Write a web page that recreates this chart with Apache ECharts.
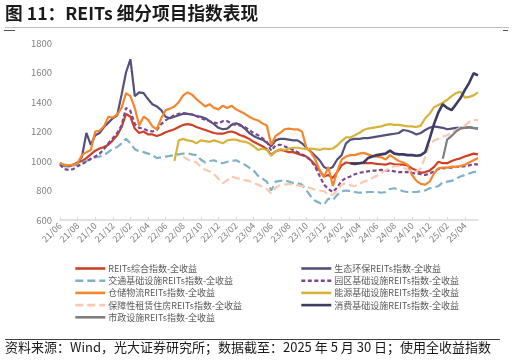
<!DOCTYPE html>
<html><head><meta charset="utf-8">
<script src="https://cdn.jsdelivr.net/npm/echarts@6/dist/echarts.min.js"></script>
<style>html,body{margin:0;padding:0;background:#fff}#c{width:515px;height:360px}</style>
</head><body><div id="c"></div>
<script>
const dates = [
'21/06/01','21/06/16','21/07/01','21/07/16','21/08/01','21/08/16','21/09/01','21/09/16','21/10/01','21/10/16','21/11/01','21/11/16','21/12/01','21/12/16',
'22/01/01','22/01/16','22/02/01','22/02/16','22/03/01','22/03/16','22/04/01','22/04/16','22/05/01','22/05/16','22/06/01','22/06/16','22/07/01','22/07/16','22/08/01','22/08/16','22/09/01','22/09/16','22/10/01','22/10/16','22/11/01','22/11/16','22/12/01','22/12/16',
'23/01/01','23/01/16','23/02/01','23/02/16','23/03/01','23/03/16','23/04/01','23/04/16','23/05/01','23/05/16','23/06/01','23/06/16','23/07/01','23/07/16','23/08/01','23/08/16','23/09/01','23/09/16','23/10/01','23/10/16','23/11/01','23/11/16','23/12/01','23/12/16',
'24/01/01','24/01/16','24/02/01','24/02/16','24/03/01','24/03/16','24/04/01','24/04/16','24/05/01','24/05/16','24/06/01','24/06/16','24/07/01','24/07/16','24/08/01','24/08/16','24/09/01','24/09/16','24/10/01','24/10/16','24/11/01','24/11/16','24/12/01','24/12/16',
'25/01/01','25/01/16','25/02/01','25/02/16','25/03/01','25/03/16','25/04/01','25/04/16','25/05/01','25/05/16'];

const yTicks = [600, 800, 1000, 1200, 1400, 1600, 1800];

const zonghe = [985,970,965,975,990,1000,1020,1045,1070,1085,
1095,1110,1140,1175,1230,1320,1300,1220,1190,1200,
1180,1180,1170,1180,1195,1205,1215,1230,1245,1250,
1245,1230,1220,1210,1200,1190,1185,1185,1195,1200,
1190,1175,1165,1150,1130,1115,1100,1080,1040,1065,
1075,1070,1060,1060,1050,1040,1030,1005,975,935,
895,905,885,925,970,990,985,985,985,985,
985,985,980,978,975,985,978,975,975,970,
950,935,920,925,935,960,995,985,985,1000,
1010,1018,1030,1040,1050,1045];

const shengtai = [985,965,965,975,985,1030,1190,1110,1175,1190,
1230,1260,1290,1310,1450,1600,1690,1440,1465,1460,
1420,1385,1370,1345,1300,1290,1300,1310,1320,1320,
1315,1305,1300,1290,1270,1250,1225,1215,1220,1245,
1255,1245,1220,1190,1170,1155,1145,1125,1100,1140,
1150,1150,1145,1140,1140,1120,1090,1065,1035,1005,
960,945,960,1010,1040,1120,1145,1150,1150,1155,
1155,1160,1165,1170,1175,1180,1185,1190,1210,1205,
1195,1180,1190,1210,1225,1235,1230,1225,1215,1220,
1225,1225,1225,1230,1222,1220];

const jiaotong = [985,970,965,970,975,990,1000,1015,1025,1030,
1040,1060,1085,1095,1120,1150,1120,1080,1065,1060,
1050,1040,1020,1025,1030,1035,1040,1045,1050,1053,
1045,1040,1010,990,1000,1005,990,985,995,1000,
1005,990,975,955,935,900,880,860,800,860,
865,870,860,850,850,840,800,760,730,715,
705,745,735,770,795,800,795,790,785,785,
790,790,790,785,790,810,815,805,795,790,
790,790,795,800,815,820,830,855,860,865,
880,895,905,915,925,930];

const yuanqu = [975,945,940,945,965,980,995,1015,1030,1050,
1080,1120,1155,1190,1240,1360,1340,1250,1225,1220,
1205,1200,1210,1250,1275,1295,1310,1320,1325,1320,
1315,1305,1290,1280,1270,1260,1255,1270,1270,1255,
1245,1240,1230,1210,1190,1175,1155,1130,1070,1105,
1110,1100,1085,1075,1060,1045,1030,1005,960,900,
840,810,790,820,865,885,895,910,920,925,
930,935,935,940,935,935,930,925,925,925,
920,915,910,905,915,930,945,950,955,955,
960,960,965,970,980,975];

const cangchu = [985,975,970,975,985,1040,1060,1075,1200,1205,
1235,1300,1295,1315,1360,1460,1440,1360,1240,1300,
1280,1235,1215,1290,1345,1355,1370,1400,1445,1465,
1450,1420,1395,1370,1385,1360,1350,1375,1360,1375,
1350,1335,1320,1300,1285,1275,1255,1240,1110,1170,
1190,1215,1220,1215,1215,1200,1090,1060,1010,940,
890,960,830,930,1010,1030,1040,1040,1050,1055,
1045,1035,1030,1025,1010,1040,1020,1000,990,975,
905,865,845,840,860,915,950,955,955,962,
960,965,975,990,1005,1020];

const nengyuan = [null,null,null,null,null,null,null,null,null,null,
null,null,null,null,null,null,null,null,null,null,
null,null,null,null,null,null,1000,1140,1150,1140,
1135,1120,1140,1135,1130,1140,1130,1120,1140,1145,
1145,1135,1130,1120,1100,1075,1085,1075,1035,1065,
1080,1075,1085,1090,1090,1085,1080,1085,1080,1075,
1085,1080,1085,1105,1135,1160,1160,1175,1190,1210,
1220,1225,1230,1235,1245,1250,1245,1245,1240,1235,
1235,1230,1240,1290,1320,1365,1380,1395,1415,1440,
1460,1470,1430,1435,1445,1465];

const baozhang = [null,null,null,null,null,null,null,null,null,null,
null,null,null,null,null,null,null,null,null,null,
null,null,null,null,null,null,null,null,1030,1010,
1000,990,960,940,930,910,880,850,870,895,
885,880,870,865,850,840,825,810,780,820,
835,840,845,840,835,830,825,815,805,800,
795,775,770,800,840,850,835,830,845,860,
870,885,900,920,935,955,965,965,955,940,
925,930,950,1030,1110,1140,1150,1165,1175,1190,
1210,1225,1240,1265,1280,1275];

const xiaofei = [null,null,null,null,null,null,null,null,null,null,
null,null,null,null,null,null,null,null,null,null,
null,null,null,null,null,null,null,null,null,null,
null,null,null,null,null,null,null,null,null,null,
null,null,null,null,null,null,null,null,null,null,
null,null,null,null,null,null,null,null,null,null,
null,null,null,null,null,null,985,980,985,990,
1020,1030,1040,1045,1050,1070,1050,1045,1045,1040,
1040,1035,1040,1060,1150,1250,1330,1385,1360,1345,
1385,1425,1480,1530,1595,1580];

const shizheng = [null,null,null,null,null,null,null,null,null,null,
null,null,null,null,null,null,null,null,null,null,
null,null,null,null,null,null,null,null,null,null,
null,null,null,null,null,null,null,null,null,null,
null,null,null,null,null,null,null,null,null,null,
null,null,null,null,null,null,null,null,null,null,
null,null,null,null,null,null,null,null,null,null,
null,null,null,null,null,null,null,null,null,null,
null,null,null,null,null,null,null,1015,1145,1170,
1200,1220,1225,1230,1225,1222];

const names = {
  zonghe: 'REITs综合指数-全收益',
  shengtai: '生态环保REITs指数-全收益',
  jiaotong: '交通基础设施REITs指数-全收益',
  yuanqu: '园区基础设施REITs指数-全收益',
  cangchu: '仓储物流REITs指数-全收益',
  nengyuan: '能源基础设施REITs指数-全收益',
  baozhang: '保障性租赁住房REITs指数-全收益',
  xiaofei: '消费基础设施REITs指数-全收益',
  shizheng: '市政设施REITs指数-全收益'
};

const FONT = '"Noto Sans CJK SC", "Noto Sans", sans-serif';

function mk(name, data, color, width, type) {
  return {
    name: name, type: 'line', data: data, symbol: 'none', connectNulls: false,
    lineStyle: { color: color, width: width, type: type || 'solid' },
    itemStyle: { color: color },
    emphasis: { disabled: true }, animation: false
  };
}

const legendBase = {
  orient: 'vertical', top: 259, itemWidth: 30, itemHeight: 8, itemGap: 3.2,
  itemStyle: { opacity: 0 },
  lineStyle: { width: 2.6 },
  textStyle: { fontSize: 9, color: '#595959', fontFamily: FONT, padding: [0, 0, 0, -2] }
};

const chart = echarts.init(document.getElementById('c'), null, { renderer: 'canvas' });
const tickFn = function (i) { return i % 4 === 0; };
chart.setOption({
  animation: false,
  textStyle: { fontFamily: FONT },
  grid: { left: 60, right: 37, top: 43, bottom: 140, containLabel: false },
  xAxis: {
    type: 'category', data: dates, boundaryGap: false,
    axisLine: { lineStyle: { color: '#d9d9d9', width: 1.5 } },
    axisTick: { show: true, inside: true, length: 3, interval: tickFn, lineStyle: { color: '#d9d9d9' } },
    axisLabel: { interval: tickFn, rotate: 45, fontSize: 9, color: '#7f7f7f', margin: 4,
      formatter: function (v) { return v.slice(0, 5); } },
    splitLine: { show: false }
  },
  yAxis: {
    type: 'value', min: yTicks[0], max: yTicks[yTicks.length - 1], interval: 200,
    axisLine: { show: false }, axisTick: { show: false }, splitLine: { show: false },
    axisLabel: { fontSize: 9.5, color: '#7f7f7f', margin: 8, formatter: function (v) { return String(v); } }
  },
  legend: [
    Object.assign({}, legendBase, { left: 69,
      data: [names.zonghe, names.jiaotong, names.cangchu, names.baozhang, names.shizheng] }),
    Object.assign({}, legendBase, { left: 295,
      data: [names.shengtai, names.yuanqu, names.nengyuan, names.xiaofei] })
  ],
  series: [
    mk(names.zonghe, zonghe, '#cc4125', 2.2),
    mk(names.shengtai, shengtai, '#54507c', 2.2),
    mk(names.jiaotong, jiaotong, '#7fb2c7', 2.2, [8, 4]),
    mk(names.yuanqu, yuanqu, '#7b4a8d', 2.2, [4, 2.5]),
    mk(names.cangchu, cangchu, '#f5862d', 2.2),
    mk(names.nengyuan, nengyuan, '#d6b33b', 2.2),
    mk(names.baozhang, baozhang, '#fbc8b3', 2.2, [8, 4]),
    mk(names.xiaofei, xiaofei, '#3c3b63', 2.6),
    mk(names.shizheng, shizheng, '#7f7f7f', 2.2)
  ],
  graphic: [
    { type: 'text', left: 5, top: 4.5, style: { text: '图 11：REITs 细分项目指数表现', fontSize: 17.7, fontWeight: 'bold', fill: '#1a1a1a', fontFamily: FONT } },
    { type: 'line', shape: { x1: 5, y1: 27.5, x2: 509, y2: 27.5 }, style: { stroke: '#bfbfbf', lineWidth: 1 } },
    { type: 'line', shape: { x1: 4, y1: 30.5, x2: 15, y2: 30.5 }, style: { stroke: '#555', lineWidth: 1 } },
    { type: 'line', shape: { x1: 503, y1: 30.5, x2: 508, y2: 30.5 }, style: { stroke: '#555', lineWidth: 1 } },
    { type: 'line', shape: { x1: 5, y1: 339.5, x2: 500, y2: 339.5 }, style: { stroke: '#404040', lineWidth: 1 } },
    { type: 'text', left: 5, top: 341, style: { text: '资料来源：Wind，光大证券研究所；数据截至：2025 年 5 月 30 日；使用全收益指数', fontSize: 13, fill: '#1a1a1a', fontFamily: FONT } }
  ]
});
</script></body></html>
